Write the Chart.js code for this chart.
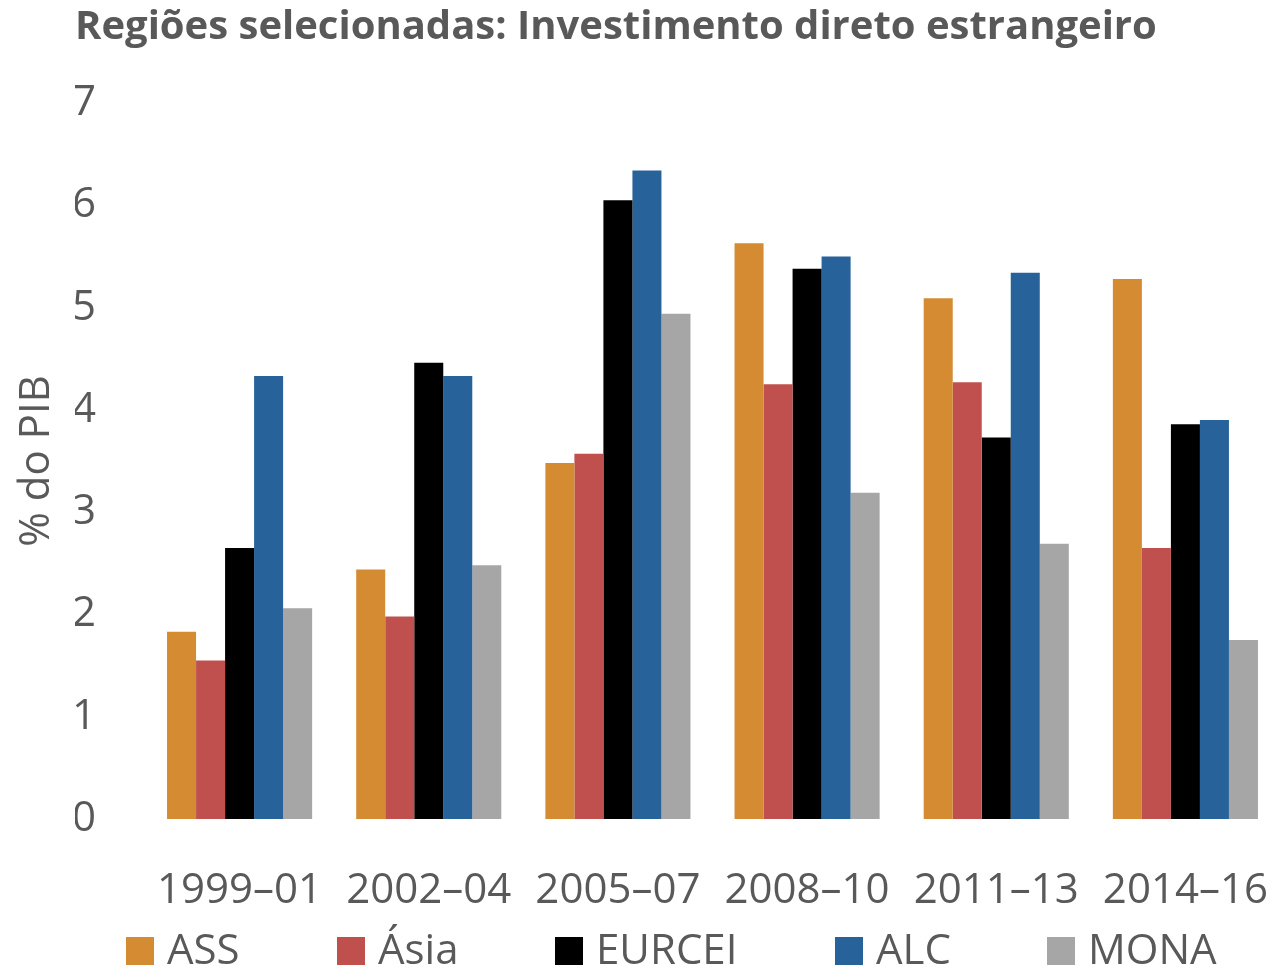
<!DOCTYPE html>
<html>
<head>
<meta charset="utf-8">
<script src="https://cdn.jsdelivr.net/npm/chart.js@4"></script>
<style>
    body { margin: 0; background: #ffffff; }
    #grafico { display: block; }
</style>
</head>
<body>
<canvas id="grafico" width="1281" height="971"></canvas>
<script>
    // periodos e series (% do PIB)
    var periodos = ['1999–01', '2002–04', '2005–07', '2008–10', '2011–13', '2014–16'];
    var regioes = ['ASS', 'Ásia', 'EURCEI', 'ALC', 'MONA'];

    var ass = [1.83, 2.44, 3.48, 5.63, 5.09, 5.28];
    var asia = [1.55, 1.98, 3.57, 4.25, 4.27, 2.65];
    var eurcei = [2.65, 4.46, 6.05, 5.38, 3.73, 3.86];
    var alc = [4.33, 4.33, 6.34, 5.50, 5.34, 3.90];
    var mona = [2.06, 2.48, 4.94, 3.19, 2.69, 1.75];

    var yTicks = [0, 1, 2, 3, 4, 5, 6, 7];

    var cores = ['#D48B31', '#C0504D', '#000000', '#27639A', '#A6A6A6'];
    var cinza = '#595959';
    var fonte = "'Open Sans', 'Noto Sans', sans-serif";

    // legenda desenhada a mao (o padding do Chart.js tambem empurra na vertical)
    var legendaX = [126, 337, 555, 835, 1047];
    var legendaY = 951;
    var legendaCaixa = 28;

    var pluginLegenda = {
        id: 'legendaManual',
        afterDraw: function (chart) {
            var ctx = chart.ctx;
            ctx.save();
            ctx.font = '42px ' + fonte;
            ctx.textBaseline = 'middle';
            ctx.textAlign = 'left';
            chart.data.datasets.forEach(function (ds, i) {
                var x = legendaX[i];
                ctx.fillStyle = ds.backgroundColor;
                ctx.fillRect(x, legendaY - legendaCaixa / 2, legendaCaixa, legendaCaixa);
                ctx.fillStyle = cinza;
                ctx.fillText(ds.label, x + legendaCaixa + 13, legendaY + 1);
            });
            ctx.restore();
        }
    };

    var series = [ass, asia, eurcei, alc, mona];
    var datasets = [];
    for (let i = 0; i < regioes.length; i++) {
        datasets.push({
            label: regioes[i],
            data: series[i],
            backgroundColor: cores[i],
            borderWidth: 0,
            categoryPercentage: 0.767,
            barPercentage: 1.0
        });
    }

    new Chart(document.getElementById('grafico').getContext('2d'), {
        type: 'bar',
        data: {
            labels: periodos,
            datasets: datasets
        },
        plugins: [pluginLegenda],
        options: {
            responsive: false,
            animation: false,
            devicePixelRatio: 1,
            layout: {
                padding: { left: 75, right: 1, top: 0, bottom: 62 }
            },
            plugins: {
                legend: { display: false },
                tooltip: { enabled: false },
                title: {
                    display: true,
                    text: 'Regiões selecionadas: Investimento direto estrangeiro',
                    align: 'start',
                    color: cinza,
                    font: { family: fonte, size: 40, weight: 'bold' },
                    padding: { top: 4, bottom: 51 }
                }
            },
            scales: {
                x: {
                    afterFit: function (escala) {
                        escala.height = 90;
                        escala.paddingLeft = 0;
                        escala.paddingRight = 0;
                    },
                    grid: { display: false, drawTicks: false },
                    border: { display: false },
                    ticks: {
                        color: cinza,
                        font: { family: fonte, size: 42 },
                        padding: 47,
                        maxRotation: 0,
                        autoSkip: false
                    }
                },
                y: {
                    min: 0,
                    max: 7,
                    afterBuildTicks: function (escala) {
                        escala.ticks = yTicks.map(function (v) { return { value: v }; });
                    },
                    afterFit: function (escala) {
                        escala.width = 70;
                    },
                    grid: { display: false, drawTicks: false },
                    border: { display: false },
                    ticks: {
                        color: cinza,
                        font: { family: fonte, size: 42 },
                        padding: 49
                    },
                    title: {
                        display: true,
                        text: '% do PIB',
                        color: cinza,
                        font: { family: fonte, size: 42 },
                        padding: { top: -63, bottom: 0 }
                    }
                }
            }
        }
    });
</script>
</body>
</html>
